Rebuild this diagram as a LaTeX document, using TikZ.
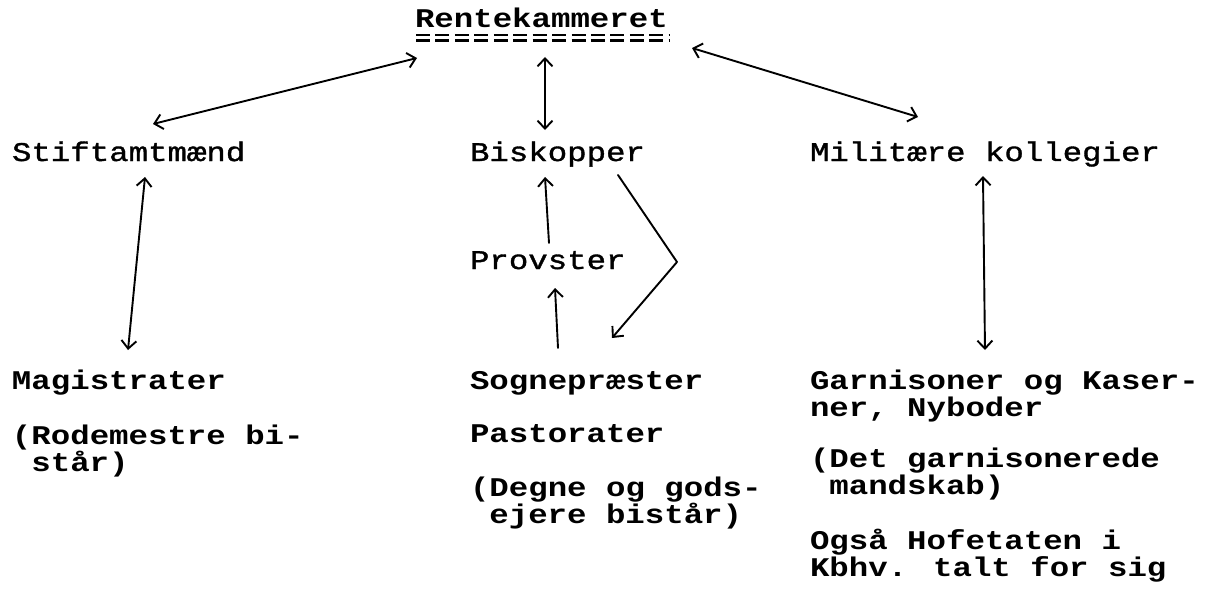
\documentclass[tikz,border=0pt]{standalone}
\usepackage{fontspec}
\newfontfamily\tw{Liberation Mono}[FakeStretch=1.2]
\newfontfamily\twm{Liberation Mono}[FakeStretch=1.2,FakeBold=1.3]
\usetikzlibrary{arrows.meta,calc}
\tikzset{
  lbl/.style={inner sep=0pt, outer sep=0pt, anchor=base west, font=\twm\fontsize{27}{26}\selectfont},
  blbl/.style={lbl, font=\tw\bfseries\fontsize{27}{26}\selectfont},
  con/.style={line width=1.9pt, line cap=round, line join=round},
  barb/.tip={Straight Barb[length=8pt,width=15pt,line width=1.9pt]},
  uline/.style={line width=2.6pt, dash pattern=on 14pt off 5.44pt}
}
\begin{document}
\begin{tikzpicture}[x=1pt,y=-1pt]
\useasboundingbox (0,0) rectangle (1224,602);
\fill[white] (0,0) rectangle (1224,602);
% nodes
\node[blbl] (rente) at (415,28) {Rentekammeret};
\node[lbl] (stift) at (12,161) {Stiftamtmænd};
\node[lbl] (bisk) at (470,161) {Biskopper};
\node[lbl] (mil) at (810,161) {Militære kollegier};
\node[lbl] (prov) at (470,269) {Provster};
\node[blbl] (mag) at (12,389) {Magistrater};
\node[blbl] (rode1) at (12,444) {(Rodemestre bi-};
\node[blbl] (rode2) at (31.4,471) {står)};
\node[blbl] (sogn) at (470,389) {Sognepræster};
\node[blbl] (past) at (470,442) {Pastorater};
\node[blbl] (degn1) at (470,496) {(Degne og gods-};
\node[blbl] (degn2) at (489.4,523) {ejere bistår)};
\node[blbl] (garn1) at (810,389) {Garnisoner og Kaser-};
\node[blbl] (garn2) at (810,416) {ner, Nyboder};
\node[blbl] (det1) at (810,467) {(Det garnisonerede};
\node[blbl] (det2) at (829.4,494) {mandskab)};
\node[blbl] (ogsa1) at (810,549) {Også Hofetaten i};
\node[blbl] (ogsa2) at (810,576) {Kbhv. talt for sig};
% double underline
\draw[uline] ($(rente.base west)+(1,7)$) -- ($(rente.base west)+(255,7)$);
\draw[uline] ($(rente.base west)+(1,12.5)$) -- ($(rente.base west)+(255,12.5)$);
% connectors
\draw[con, barb-barb] ($(rente.base west)+(2,30)$) -- ($(stift.base west)+(141,-37)$);
\draw[con, barb-barb] ($(rente.base west)+(130,29)$) -- ($(bisk.base west)+(75,-31)$);
\draw[con, barb-barb] ($(rente.base west)+(277,20)$) -- ($(mil.base west)+(108,-44)$);
\draw[con, barb-barb] ($(stift.base west)+(133,16)$) -- ($(mag.base west)+(116,-39)$);
\draw[con, barb-barb] ($(mil.base west)+(173,15)$) -- ($(garn1.base west)+(175,-39)$);
\draw[con, -barb] ($(prov.base west)+(79,-26)$) -- ($(bisk.base west)+(75,16)$);
\draw[con, -barb] ($(sogn.base west)+(88,-41)$) -- ($(prov.base west)+(85,19)$);
\coordinate (bend) at (677,262);
\draw[con, -barb] ($(bisk.base west)+(148,14)$) -- (bend) -- ($(sogn.base west)+(142,-51)$);
\end{tikzpicture}
\end{document}
